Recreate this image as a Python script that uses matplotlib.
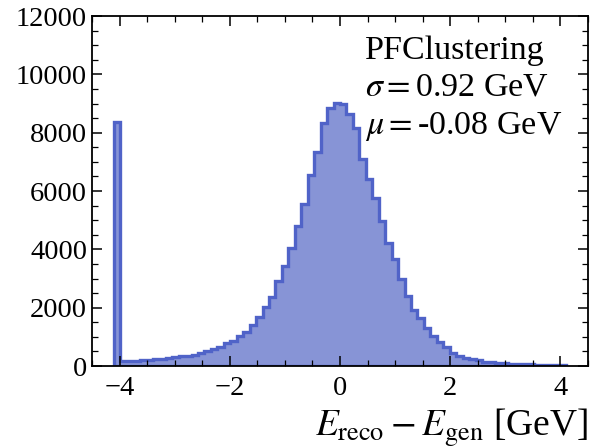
import numpy as np
import matplotlib
matplotlib.use('Agg')
import matplotlib.pyplot as plt
from matplotlib.ticker import MultipleLocator

# 70 bins between -4.1 and 4.1 GeV, first bin collects the underflow
bin_lo = -4.1
bin_hi = 4.1
n_bins = 70
counts = [8380, 160, 170, 185, 200, 215, 235, 255, 280, 300,
          330, 355, 390, 430, 500, 590, 660, 800, 870, 1035,
          1150, 1400, 1665, 2030, 2350, 2900, 3420, 4050, 4800, 5560,
          6550, 7350, 8320, 8835, 9030, 9000, 8660, 8170, 7085, 6400,
          5750, 4970, 4215, 3660, 2980, 2400, 1930, 1650, 1290, 1020,
          835, 660, 455, 360, 280, 230, 190, 150, 125, 100,
          90, 80, 70, 60, 55, 50, 45, 40, 35, 30]
label_text = "PFClustering\n$\\sigma = $0.92 GeV\n$\\mu = $-0.08 GeV"

plt.rcParams['font.family'] = 'serif'
plt.rcParams['font.serif'] = ['Liberation Serif', 'DejaVu Serif']
plt.rcParams['mathtext.fontset'] = 'stix'

edges = np.linspace(bin_lo, bin_hi, n_bins + 1)
centers = 0.5 * (edges[:-1] + edges[1:])

fig = plt.figure(figsize=(5.92, 4.48), dpi=100)
ax = fig.add_axes([0.1554, 0.183, 0.8378, 0.781])

ax.hist(centers, bins=edges, weights=counts, histtype='stepfilled',
        facecolor='#8794d6', edgecolor='#5063c8', linewidth=2.4)

ax.set_xlim(-4.5, 4.5)
ax.set_ylim(0, 12000)
ax.xaxis.set_major_locator(MultipleLocator(2))
ax.xaxis.set_minor_locator(MultipleLocator(0.5))
ax.yaxis.set_major_locator(MultipleLocator(2000))
ax.yaxis.set_minor_locator(MultipleLocator(500))
ax.tick_params(which='both', direction='in', top=True, right=True, labelsize=20.5)
ax.tick_params(axis='x', which='major', pad=7)
ax.tick_params(which='major', length=7, width=1.1)
ax.tick_params(which='minor', length=4, width=0.9)
for s in ax.spines.values():
    s.set_linewidth(1.3)

ax.set_xlabel("$E_\\mathrm{reco} - E_\\mathrm{gen}$ [GeV]", fontsize=27, loc='right',
              labelpad=4)
ax.text(0.551, 0.945, label_text, transform=ax.transAxes, va='top', ha='left',
        fontsize=24.5, linespacing=1.28)

fig.savefig('out.png', dpi=100)
